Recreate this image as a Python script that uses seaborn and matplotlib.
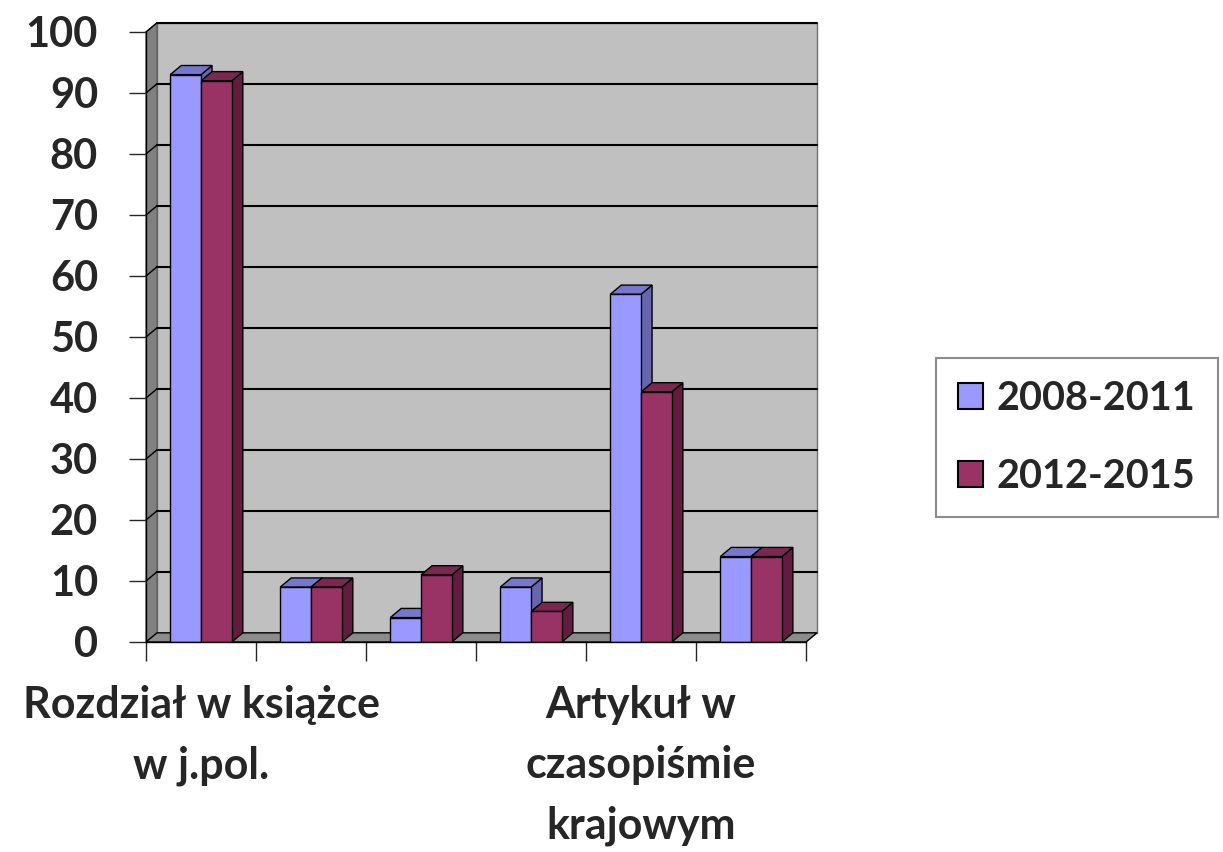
import matplotlib
matplotlib.use("Agg")
import matplotlib.pyplot as plt
from matplotlib.patches import Polygon
import seaborn as sns
import pandas as pd

# dane
kategorie = ["Rozdział w książce\nw j.pol.", "kat. 2", "kat. 3", "kat. 4",
             "Artykuł w\nczasopiśmie\nkrajowym", "kat. 6"]
etykiety = ["Rozdział w książce\nw j.pol.", "", "", "",
            "Artykuł w\nczasopiśmie\nkrajowym", ""]
okresy = ["2008-2011", "2012-2015"]
wartosci_2008_2011 = [93, 9, 4, 9, 57, 14]
wartosci_2012_2015 = [92, 9, 11, 5, 41, 14]
podzialka_y = list(range(0, 101, 10))

df = pd.DataFrame({
    "kategoria": kategorie * 2,
    "okres": [okresy[0]] * len(kategorie) + [okresy[1]] * len(kategorie),
    "wartosc": wartosci_2008_2011 + wartosci_2012_2015,
})

kolory = {"2008-2011": "#9999FF", "2012-2015": "#993366"}
bok = {"2008-2011": "#6666B0", "2012-2015": "#631C40"}
gora = {"2008-2011": "#7777CC", "2012-2015": "#7A2850"}

sns.set_style("white")
plt.rcParams["font.family"] = ["Lato", "DejaVu Sans"]
plt.rcParams["font.weight"] = "bold"

fig = plt.figure(figsize=(12.23, 8.52), dpi=100)
ax = fig.add_axes([0.1194, 0.2465, 0.5397, 0.7160])

sns.barplot(data=df, x="kategoria", y="wartosc", hue="okres", order=kategorie,
            hue_order=okresy, palette=kolory, width=0.56, saturation=1,
            edgecolor="black", linewidth=1, ax=ax, zorder=3)

ax.set_xlim(-0.5, 5.5)
ax.set_ylim(0, 100)
ax.set_yticks(podzialka_y)

# glebokosc 3D (w jednostkach danych)
dx, dy = 0.1, 1.5
x0, x1 = ax.get_xlim()
y0, y1 = ax.get_ylim()

# sciana tylna, boczna i podloga
sciana = Polygon([(x0 + dx, y0 + dy), (x1 + dx, y0 + dy), (x1 + dx, y1 + dy), (x0 + dx, y1 + dy)],
                 closed=True, facecolor="#C0C0C0", edgecolor="#707070", lw=1, zorder=0.5, clip_on=False)
ax.add_patch(sciana)
lewa = Polygon([(x0, y0), (x0 + dx, y0 + dy), (x0 + dx, y1 + dy), (x0, y1)],
               closed=True, facecolor="#808080", edgecolor="#606060", lw=1, zorder=0.6, clip_on=False)
ax.add_patch(lewa)
podloga = Polygon([(x0, y0), (x1, y0), (x1 + dx, y0 + dy), (x0 + dx, y0 + dy)],
                  closed=True, facecolor="#8C8C8C", edgecolor="black", lw=1, zorder=0.7, clip_on=False)
ax.add_patch(podloga)

for t in podzialka_y:
    if 0 < t <= 100:
        ax.plot([x0 + dx, x1 + dx], [t + dy, t + dy], color="black", lw=1.5, zorder=1, clip_on=False)
        ax.plot([x0, x0 + dx], [t, t + dy], color="black", lw=1, zorder=0.65, clip_on=False)

# boki i gory slupkow
for okres, cont in zip(okresy, ax.containers):
    for r in cont:
        x, w, h = r.get_x(), r.get_width(), r.get_height()
        ax.add_patch(Polygon([(x + w, 0), (x + w + dx, dy), (x + w + dx, h + dy), (x + w, h)],
                             closed=True, facecolor=bok[okres], edgecolor="black", lw=1, zorder=2))
        ax.add_patch(Polygon([(x, h), (x + dx, h + dy), (x + w + dx, h + dy), (x + w, h)],
                             closed=True, facecolor=gora[okres], edgecolor="black", lw=1, zorder=2))

# osie
ax.set_xlabel("")
ax.set_ylabel("")
ax.tick_params(axis="y", labelsize=30, length=12.5, width=1, pad=22, direction="out", left=True)
ax.set_xticks(range(len(kategorie)))
ax.set_xticklabels(etykiety, fontsize=31, linespacing=1.62)
ax.set_xticks([i - 0.5 for i in range(len(kategorie) + 1)], minor=True)
ax.tick_params(axis="x", which="major", length=0, pad=31)
ax.tick_params(axis="x", which="minor", length=14, width=1, direction="out", bottom=True)
for s in ["top", "right"]:
    ax.spines[s].set_visible(False)
for s in ["left", "bottom"]:
    ax.spines[s].set_color("black")
    ax.spines[s].set_linewidth(1)
    ax.spines[s].set_zorder(4)
ax.set_facecolor("none")

# legenda
sns.move_legend(ax, loc="center", bbox_to_anchor=(0.8806, 0.4865), bbox_transform=fig.transFigure,
                title=None, fontsize=28.5, frameon=True, fancybox=False, handlelength=0.63,
                handleheight=0.63, handletextpad=0.35, labelspacing=1.05, borderpad=0.55,
                borderaxespad=0)
leg = ax.get_legend()
leg.get_frame().set_edgecolor("#707070")
leg.get_frame().set_linewidth(1.5)
for hnd in leg.legend_handles:
    hnd.set_edgecolor("black")
    hnd.set_linewidth(1.5)

fig.savefig("out.png", dpi=100, facecolor="white")
